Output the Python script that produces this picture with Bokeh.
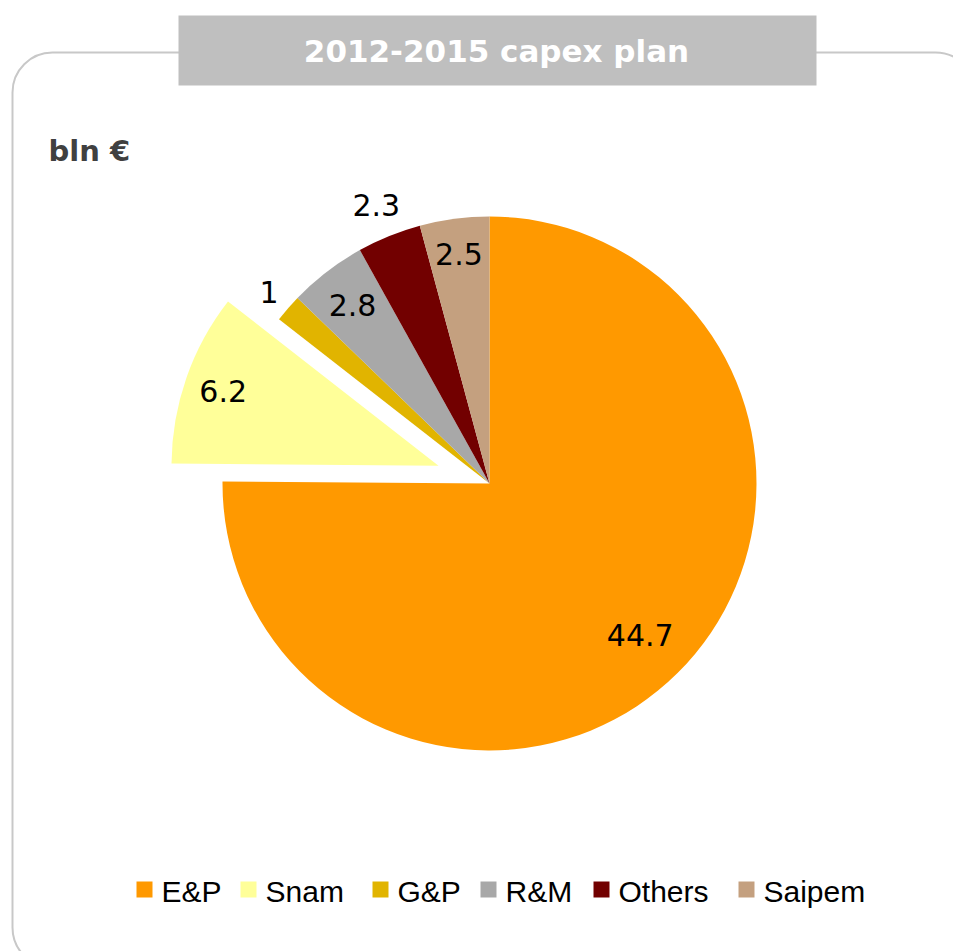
import math
from bokeh.plotting import figure
from bokeh.models import Range1d, BoxAnnotation, ColumnDataSource
from bokeh.core.properties import value
from bokeh.embed import file_html
from bokeh.resources import INLINE

# ---- data ----
categories = ["E&P", "Snam", "G&P", "R&M", "Others", "Saipem"]
values = [44.7, 6.2, 1.0, 2.8, 2.3, 2.5]
labels = ["44.7", "6.2", "1", "2.8", "2.3", "2.5"]
colors = ["#FF9900", "#FFFF99", "#E1B400", "#A8A8A8", "#720000", "#C4A07F"]
title_text = "2012-2015 capex plan"
unit_text = "bln €"

# ---- layout (screen pixels) ----
W, H = 953, 951
CX, CY, R = 489, 483, 267
explode = [0, 54, 0, 0, 0, 0]
label_r = [214, 228, 292, 225, 301, 232]
leg_left = [136, 240, 372, 480, 593, 738]

def Y(ys):
    return H - ys

p = figure(width=W, height=H, x_range=Range1d(0, W), y_range=Range1d(0, H),
           min_border=0, output_backend="svg", toolbar_location=None)
p.axis.visible = False
p.grid.visible = False
p.outline_line_color = None
p.background_fill_color = "white"

# rounded frame (under everything else)
frame = BoxAnnotation(left=12, right=975, top=Y(52), bottom=Y(967), border_radius=40,
                      fill_color=None, fill_alpha=0, line_color="#C8C8C8", line_alpha=1.0,
                      line_width=2, level="underlay")
p.add_layout(frame)

# title box
p.quad(left=[178], right=[816], top=[Y(15)], bottom=[Y(85)], fill_color="#BFBFBF", line_color=None)
p.text(x=[496], y=[Y(50)], text=[title_text], text_align="center", text_baseline="middle",
       text_color="white", text_font=value("DejaVu Sans"), text_font_style="bold",
       text_font_size="31px")
p.text(x=[48], y=[Y(150)], text=[unit_text], text_align="left", text_baseline="middle",
       text_color="#404040", text_font=value("DejaVu Sans"), text_font_style="bold",
       text_font_size="29px")

# pie
total = sum(values)
cum = 0.0
xs, ys, sa, ea, lx, ly = [], [], [], [], [], []
for i, v in enumerate(values):
    t1 = cum / total * 2 * math.pi
    cum += v
    t2 = cum / total * 2 * math.pi
    mid = (t1 + t2) / 2
    dx, dy = math.sin(mid), math.cos(mid)  # data coords (y up)
    cx = CX + explode[i] * dx
    cy = Y(CY) + explode[i] * dy
    xs.append(cx); ys.append(cy)
    sa.append(math.pi / 2 - t2); ea.append(math.pi / 2 - t1)
    lx.append(cx + label_r[i] * dx); ly.append(cy + label_r[i] * dy)

src = ColumnDataSource(dict(x=xs, y=ys, sa=sa, ea=ea, color=colors, lx=lx, ly=ly, lab=labels))
p.wedge(x="x", y="y", radius=R, start_angle="sa", end_angle="ea", fill_color="color",
        line_color=None, source=src)
p.text(x="lx", y="ly", text="lab", text_align="center", text_baseline="middle",
       text_color="black", text_font=value("DejaVu Sans"), text_font_size="30px", source=src)

# legend
leg_y = Y(889)
p.scatter(x=[v + 8 for v in leg_left], y=[leg_y] * 6, marker="square", size=16,
          fill_color=colors, line_color=None)
p.text(x=[v + 25 for v in leg_left], y=[Y(891)] * 6, text=categories, text_align="left",
       text_baseline="middle", text_color="black", text_font=value("Liberation Sans"),
       text_font_size="30px")

open("out.html", "w").write(file_html(p, INLINE))
